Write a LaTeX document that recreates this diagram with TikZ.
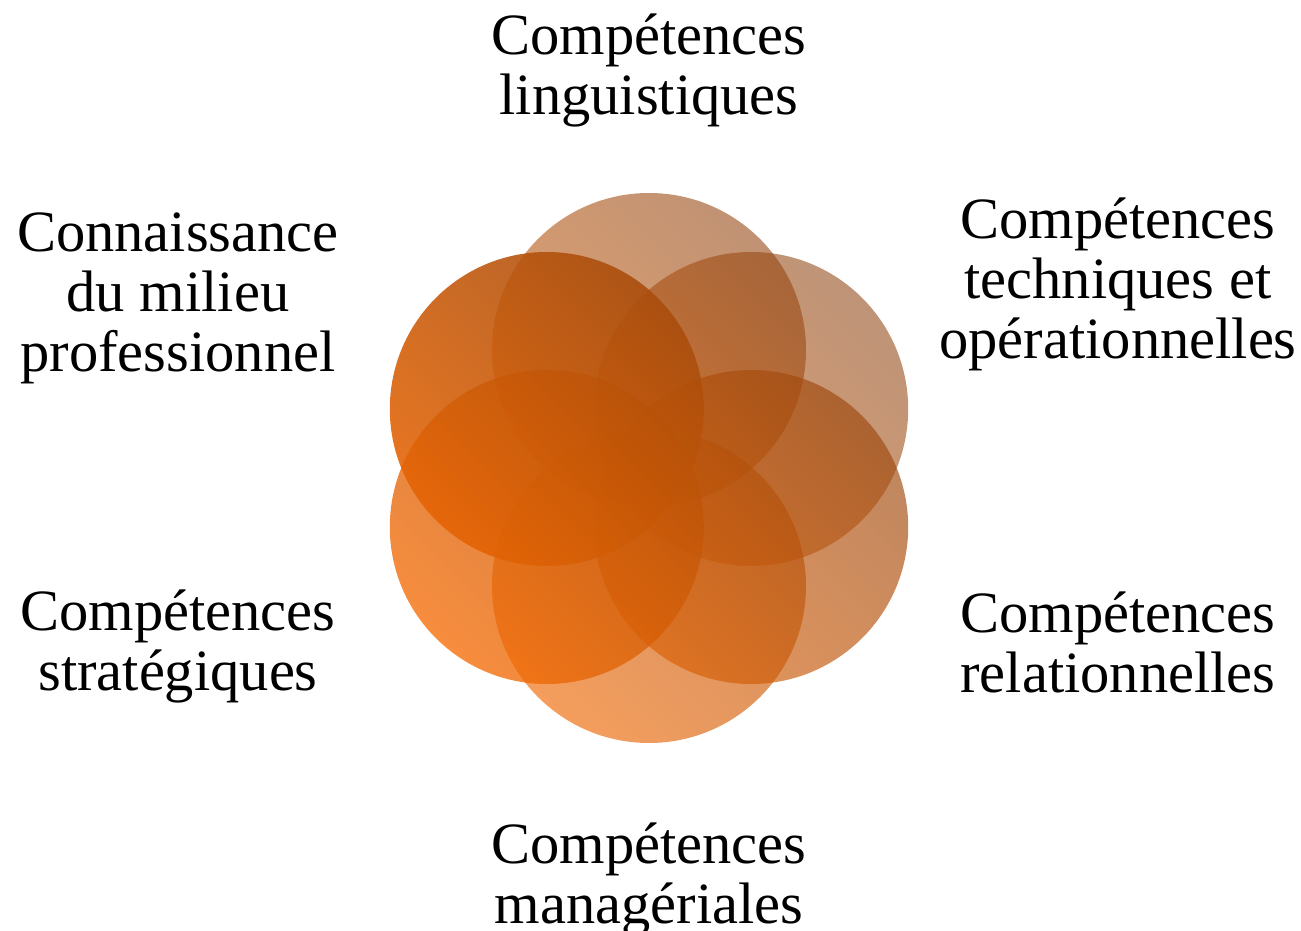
\documentclass[tikz,border=0pt]{standalone}
\usepackage{fontspec}
\setmainfont{Liberation Serif}
\usetikzlibrary{positioning}

\definecolor{petallight}{RGB}{245,105,0}
\definecolor{petaldark}{RGB}{140,65,15}

\begin{document}
\begin{tikzpicture}[x=1pt, y=1pt,
        petal/.style={circle, minimum size=314pt, inner sep=0pt,
            path picture={\shade[left color=petallight, right color=petaldark, shading angle=135, opacity=#1] (flowerbl) rectangle (flowertr);}},
        skill/.style={align=center, inner sep=0pt, font=\fontsize{58.5}{60}\selectfont}]

        \useasboundingbox (-649,-463) rectangle (652,468);
        \coordinate (flowerbl) at (-275,-275);
        \coordinate (flowertr) at (275,275);

        % six overlapping circles
        \node[petal=0.58] (ling) at (90:118) {};
        \node[petal=0.57] (tech) at (30:118) {};
        \node[petal=0.66] (rel) at (-30:118) {};
        \node[petal=0.64] (man) at (-90:118) {};
        \node[petal=0.76] (strat) at (-150:118) {};
        \node[petal=0.88] (milieu) at (150:118) {};

        % labels
        \node[skill] (linglbl) at (0,398) {Compétences\\linguistiques};
        \node[skill] (techlbl) at (469,184) {Compétences\\techniques et\\opérationnelles};
        \node[skill] (rellbl) at (469,-174) {Compétences\\relationnelles};
        \node[skill] (manlbl) at (0,-411) {Compétences\\managériales};
        \node[skill] (stratlbl) at (-471,-178) {Compétences\\stratégiques};
        \node[skill] (milieulbl) at (-471,170) {Connaissance\\du milieu\\professionnel};

    \end{tikzpicture}
\end{document}
